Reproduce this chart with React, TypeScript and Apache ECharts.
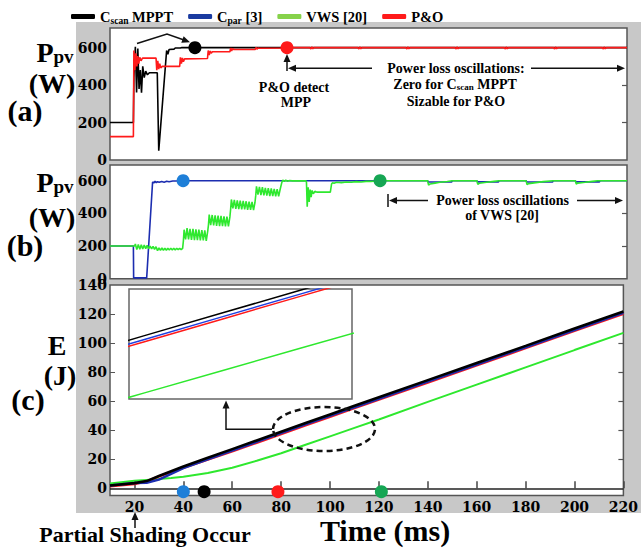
import React, { useEffect, useRef } from "react";
import * as echarts from "echarts";

// ---------- data ----------
const legendNames = ["Cscan MPPT", "Cpar [3]", "VWS [20]", "P&O"];

// Panel (a): power of Cscan MPPT and P&O  [time ms, W]
const cscanPower: number[][] = [
  [10, 200], [19.5, 200], [19.7, 440], [20.3, 605], [20.8, 360], [21.3, 595], [21.8, 380], [22.3, 480],
  [22.8, 360], [23.3, 500], [23.9, 440], [24.5, 475], [25.2, 455], [26, 466], [29.2, 466], [29.8, 50],
  [33, 585], [33.5, 565], [34, 590], [36, 592], [36.5, 598], [38.5, 598], [39, 600], [220, 600],
];
const poPower: number[][] = [
  [10, 125], [19.5, 125], [19.7, 585], [20.1, 480], [20.5, 570], [20.9, 500], [21.3, 555], [21.7, 515],
  [22.1, 548], [22.6, 530], [23.2, 544], [28.7, 544], [29, 480], [29.4, 530], [29.8, 485], [30.2, 515],
  [30.6, 492], [31.2, 500], [38.3, 500], [38.6, 548], [39, 515], [39.4, 545], [39.8, 525], [40.3, 540],
  [49.6, 542], [49.9, 585], [50.3, 560], [50.7, 582], [51.1, 570], [51.6, 578], [58.7, 578], [59, 598],
  [59.4, 582], [59.8, 594], [60.3, 590], [69, 590], [69.3, 601], [69.7, 592], [70.1, 598], [70.6, 597],
  [81, 598], [81.5, 600],
  [91.2, 600], [91.6, 593], [92, 605], [92.4, 594], [92.8, 600],
  [110.7, 600], [111.1, 593], [111.5, 605], [111.9, 594], [112.3, 600],
  [130.2, 600], [130.6, 593], [131, 605], [131.4, 594], [131.8, 600],
  [150.2, 600], [150.6, 593], [151, 605], [151.4, 594], [151.8, 600],
  [170.2, 600], [170.6, 593], [171, 605], [171.4, 594], [171.8, 600],
  [190.2, 600], [190.6, 593], [191, 605], [191.4, 594], [191.8, 600],
  [210, 600], [210.4, 593], [210.8, 605], [211.2, 594], [211.6, 600], [220, 600],
];

// Panel (b): power of Cpar and VWS
const cparPower: number[][] = [
  [10, 200], [19.5, 200], [19.6, 5], [24.9, 5], [27.3, 592], [27.8, 586], [28.3, 596], [28.8, 588],
  [29.3, 594], [30, 590], [31, 595], [32, 591], [33, 596], [34, 593], [35.5, 598], [37, 598], [38, 600],
  [139, 600], [139.3, 592], [148.8, 592], [149, 600], [159, 600], [159.3, 593], [167.8, 593], [168, 600],
  [179, 600], [179.3, 592], [189.8, 592], [190, 600], [199, 600], [199.3, 593], [208.8, 593], [209, 600],
  [220, 600],
];
const vwsPower: number[][] = [
  [10, 200], [20, 200], [20.3, 212], [20.9, 178], [21.5, 210], [22.1, 180], [22.7, 208], [23.3, 182],
  [23.9, 206], [24.5, 184], [25.1, 204], [25.7, 184], [26.3, 200], [26.9, 182], [27.5, 198], [28.1, 180],
  [28.7, 196], [29.3, 172], [29.9, 188], [30.5, 174], [31.1, 188], [31.7, 174], [32.3, 186], [32.9, 174],
  [33.5, 186], [34.1, 176], [34.7, 186], [35.3, 176], [35.9, 186], [36.5, 176], [37.1, 186], [37.7, 178],
  [38.3, 186], [38.9, 178], [39.5, 186], [39.8, 230], [40.1, 300], [40.7, 240], [41.3, 310], [41.9, 240],
  [42.5, 305], [43.1, 238], [43.7, 305], [44.3, 236], [44.9, 302], [45.5, 236], [46.1, 300], [46.7, 234],
  [47.3, 298], [47.9, 234], [48.5, 296], [49.1, 232], [49.7, 292], [50, 330], [50.3, 392], [50.9, 328],
  [51.5, 390], [52.1, 326], [52.7, 388], [53.3, 324], [53.9, 386], [54.5, 322], [55.1, 384], [55.7, 322],
  [56.3, 382], [56.9, 320], [57.5, 380], [58.1, 320], [58.7, 378], [59, 425], [59.3, 485], [59.9, 430],
  [60.5, 482], [61.1, 428], [61.7, 480], [62.3, 426], [62.9, 478], [63.5, 424], [64.1, 476], [64.7, 424],
  [65.3, 474], [65.9, 422], [66.5, 472], [67.1, 422], [67.7, 470], [68.3, 420], [68.9, 468], [69.2, 510],
  [69.5, 565], [70.1, 515], [70.7, 562], [71.3, 512], [71.9, 560], [72.5, 510], [73.1, 556], [73.7, 508],
  [74.3, 554], [74.9, 506], [75.5, 552], [76.1, 506], [76.7, 550], [77.3, 504], [77.9, 548], [78.5, 504],
  [79.1, 546], [79.8, 590], [80.2, 604], [80.8, 596], [81.4, 603], [82, 597], [83, 601], [84, 599],
  [89.6, 600], [89.8, 590], [90.1, 440], [90.5, 560], [90.9, 470], [91.3, 545], [91.7, 500], [92.1, 540],
  [92.6, 520], [93.2, 535], [94, 530], [99.5, 530], [100, 580], [100.4, 588], [101, 584], [102, 590],
  [104, 588], [106, 592], [108, 590], [110, 594], [112, 592], [114, 596], [116, 596], [118, 598],
  [119.5, 600], [139, 600], [139.4, 573], [140, 580], [142, 585], [144, 590], [147, 595], [149, 600],
  [159, 600], [159.4, 578], [160, 584], [163, 590], [166, 596], [168, 600], [179, 600], [179.4, 576],
  [180, 582], [183, 588], [186, 594], [190, 600], [199, 600], [199.4, 580], [200, 585], [203, 590],
  [206, 596], [208, 600], [220, 600],
];

// Panel (c): energy [J] at sample times
const energyTime = [10, 20, 25, 30, 35, 40, 50, 60, 70, 80, 90, 100, 110, 120, 140, 160, 180, 200, 220];
const cscanEnergy = [2, 3.6, 5, 8.5, 11.8, 15, 21, 27, 33, 39, 45, 50.9, 56.8, 62.7, 74.5, 86.3, 98.1, 110, 121.8];
const cparEnergy = [2, 3.6, 3.8, 6, 10, 14, 20, 26, 32, 38, 44, 49.9, 55.8, 61.7, 73.5, 85.3, 97.1, 109, 120.8];
const poEnergy = [1.5, 2.9, 4.8, 8.2, 11.2, 14.2, 19.8, 25.5, 31.4, 37.4, 43.4, 49.3, 55.2, 61.1, 72.9, 84.7, 96.5, 108.4, 120.2];
const vwsEnergy = [3.4, 5.2, 5.8, 6.4, 7.1, 8, 10.5, 14.2, 19, 24.2, 30, 35.8, 41.6, 47.4, 59.5, 71.4, 83.3, 95.2, 107];

// MPP detection markers
const dotCscanA = [44.5, 600];
const dotPoA = [81.9, 600];
const dotCparB = [39.7, 600];
const dotVwsB = [119.7, 600];
const dotsC = { cpar: [40, -2.3], cscan: [48.5, -2.3], po: [78.7, -2.3], vws: [121, -2.3] };

// axis ticks
const powerLabels = [0, 200, 400, 600];
const powerTicks = [200, 400];
const energyLabels = [0, 20, 40, 60, 80, 100, 120, 140];
const energyTicks = [20, 40, 60, 80, 100, 120];
const timeLabels = [20, 40, 60, 80, 100, 120, 140, 160, 180, 200, 220];
const insetRange = { x: [88, 116.8], y: [28.4, 57.2] };

// ---------- styles ----------
const C = {
  cscan: "#000000",
  cpar: "#1c2db0",
  vws: "#2ee82e",
  po: "#ff1a1a",
  dotBlue: "#1e7fd8",
  dotGreen: "#16a654",
};
const SERIF = '"Liberation Serif", "Times New Roman", serif';
const TICKFONT = '"DejaVu Serif", serif';

const pair = (vals: number[]) => energyTime.map((t, i) => [t, vals[i]]);

function seg(points: number[][]) {
  return { type: "polyline", z: 60, shape: { points }, style: { stroke: "#111", lineWidth: 1.5, fill: "none" } };
}
function head(tip: number[], from: number[], len = 8, half = 3.5) {
  const dx = tip[0] - from[0], dy = tip[1] - from[1];
  const d = Math.hypot(dx, dy);
  const ux = dx / d, uy = dy / d;
  const bx = tip[0] - ux * len, by = tip[1] - uy * len;
  return {
    type: "polygon", z: 60,
    shape: { points: [tip, [bx - uy * half, by + ux * half], [bx + uy * half, by - ux * half]] },
    style: { fill: "#111" },
  };
}
function txt(x: number, y: number, text: string, size: number, rich?: any, lineHeight?: number) {
  return {
    type: "text", z: 60, x, y,
    style: {
      text, fill: "#000", font: `bold ${size}px ${SERIF}`,
      textAlign: "center", textVerticalAlign: "middle", rich, lineHeight,
    },
  };
}
const subRich = (size: number) => ({
  s: { fontFamily: SERIF, fontWeight: "bold", fontSize: size, verticalAlign: "bottom", fill: "#000", color: "#000" },
});

export default function App() {
  const ref = useRef<HTMLDivElement>(null);
  useEffect(() => {
    document.body.style.margin = "0";
    if (!ref.current) return;
    const chart = echarts.init(ref.current, undefined, { renderer: "svg" });

    const hiddenX = (gridIndex: number) => ({
      type: "value", gridIndex, min: 10, max: 220,
      axisLine: { show: false }, axisTick: { show: false }, axisLabel: { show: false }, splitLine: { show: false },
    });
    const labelStyle = { fontFamily: TICKFONT, fontWeight: "bold", fontSize: 14, color: "#000" };
    const leftY = (gridIndex: number, min: number, max: number, labels: number[], ticks?: number[]) => ({
      type: "value", gridIndex, min, max, position: "left",
      axisLine: { show: false },
      axisTick: ticks ? { show: true, inside: true, length: 5, customValues: ticks, lineStyle: { color: "#555" } } : { show: false },
      axisLabel: { ...labelStyle, margin: 3, customValues: labels },
      splitLine: { show: false },
    });
    const rightY = (gridIndex: number, min: number, max: number, ticks: number[]) => ({
      type: "value", gridIndex, min, max, position: "right",
      axisLine: { show: false },
      axisTick: { show: true, inside: true, length: 5, customValues: ticks, lineStyle: { color: "#555", width: 1.2 } },
      axisLabel: { show: false }, splitLine: { show: false },
    });
    const line = (name: string, data: number[][], color: string, xi: number, yi: number, width = 1.6, extra: any = {}) => ({
      name, type: "line", data, xAxisIndex: xi, yAxisIndex: yi, showSymbol: false, symbol: "none",
      lineStyle: { color, width }, itemStyle: { color }, z: 3, ...extra,
    });
    const dot = (data: number[][], color: string, xi: number, yi: number) => ({
      name: "marker", type: "scatter", data, xAxisIndex: xi, yAxisIndex: yi, symbolSize: 13,
      itemStyle: { color, opacity: 1 }, z: 6, clip: false,
    });

    const gridStyle = { show: true, backgroundColor: "#fff", borderColor: "#555", borderWidth: 1.5 };

    const legendFormatter = (n: string) => {
      if (n === "Cscan MPPT") return "{m|C}{s|scan}{m| MPPT}";
      if (n === "Cpar [3]") return "{m|C}{s|par}{m| [3]}";
      return "{m|" + n + "}";
    };

    const option: any = {
      animation: false,
      backgroundColor: "#fff",
      legend: {
        left: 66, top: 4, itemWidth: 24, itemHeight: 5, itemGap: 15, icon: "roundRect",
        selectedMode: false,
        data: [
          { name: legendNames[0], itemStyle: { color: "#000" } },
          { name: legendNames[1], itemStyle: { color: "#1a3ba0" } },
          { name: legendNames[2], itemStyle: { color: "#86d24a" } },
          { name: legendNames[3], itemStyle: { color: "#ff1a1a" } },
        ],
        formatter: legendFormatter,
        textStyle: {
          rich: {
            m: { fontFamily: SERIF, fontWeight: "bold", fontSize: 14.5, color: "#000", lineHeight: 18 },
            s: { fontFamily: SERIF, fontWeight: "bold", fontSize: 9.5, color: "#000", verticalAlign: "bottom", lineHeight: 11 },
          },
        },
      },
      grid: [
        { left: 110, top: 28, width: 517, height: 132, ...gridStyle },
        { left: 110, top: 165, width: 517, height: 113.7, ...gridStyle },
        { left: 110, top: 285, width: 517, height: 210.6, ...gridStyle },
        { left: 129, top: 289, width: 223, height: 110, ...gridStyle, borderColor: "#666" },
      ],
      xAxis: [
        hiddenX(0),
        hiddenX(1),
        {
          type: "value", gridIndex: 2, min: 10, max: 220,
          axisLine: { show: false },
          axisTick: { show: true, inside: true, length: 7, customValues: timeLabels, lineStyle: { color: "#444", width: 1.5 } },
          axisLabel: { ...labelStyle, margin: 4, customValues: timeLabels },
          splitLine: { show: false },
        },
        {
          type: "value", gridIndex: 3, min: insetRange.x[0], max: insetRange.x[1],
          axisLine: { show: false }, axisTick: { show: false }, axisLabel: { show: false }, splitLine: { show: false },
        },
      ],
      yAxis: [
        leftY(0, 0, 705, powerLabels),
        rightY(0, 0, 705, powerTicks),
        leftY(1, 0, 696, powerLabels),
        rightY(1, 0, 696, powerTicks),
        leftY(2, -5, 140, energyLabels, energyTicks),
        rightY(2, -5, 140, energyTicks),
        {
          type: "value", gridIndex: 3, min: insetRange.y[0], max: insetRange.y[1],
          axisLine: { show: false }, axisTick: { show: false }, axisLabel: { show: false }, splitLine: { show: false },
        },
      ],
      series: [
        // (a)
        line("Cscan MPPT", cscanPower, C.cscan, 0, 0, 1.6),
        line("P&O", poPower, C.po, 0, 0, 1.6),
        dot([dotCscanA], "#000", 0, 0),
        dot([dotPoA], C.po, 0, 0),
        // (b)
        line("Cpar [3]", cparPower, C.cpar, 1, 2, 1.6),
        line("VWS [20]", vwsPower, C.vws, 1, 2, 1.6),
        dot([dotCparB], C.dotBlue, 1, 2),
        dot([dotVwsB], C.dotGreen, 1, 2),
        // (c)
        line("VWS [20]", pair(vwsEnergy), C.vws, 2, 4, 2, {
          markLine: {
            silent: true, symbol: "none", label: { show: false },
            lineStyle: { color: "#222", width: 1.5, type: "solid" },
            data: [{ yAxis: 0 }],
          },
        }),
        line("P&O", pair(poEnergy), C.po, 2, 4, 2.5),
        line("Cpar [3]", pair(cparEnergy), C.cpar, 2, 4, 2.5),
        line("Cscan MPPT", pair(cscanEnergy), C.cscan, 2, 4, 2.6),
        dot([dotsC.cpar], C.dotBlue, 2, 4),
        dot([dotsC.cscan], "#000", 2, 4),
        dot([dotsC.po], C.po, 2, 4),
        dot([dotsC.vws], C.dotGreen, 2, 4),
        // inset
        line("VWS [20]", pair(vwsEnergy), C.vws, 3, 6, 1.5),
        line("P&O", pair(poEnergy), C.po, 3, 6, 1.5),
        line("Cpar [3]", pair(cparEnergy), "#1f3fe0", 3, 6, 1.5),
        line("Cscan MPPT", pair(cscanEnergy), C.cscan, 3, 6, 1.5),
      ],
      graphic: [
        { type: "rect", z: -10, shape: { x: 76, y: 22, width: 565, height: 491 }, style: { fill: "#c8c8c8" } },
        // y titles
        txt(55, 52, "P{s|pv}", 28, subRich(19)),
        txt(52, 83, "(W)", 28),
        txt(25, 110, "(a)", 30),
        txt(55, 182, "P{s|pv}", 28, subRich(19)),
        txt(52, 217, "(W)", 28),
        txt(25, 245, "(b)", 30),
        txt(57, 345, "E", 28),
        txt(60, 375, "(J)", 28),
        txt(28, 399, "(c)", 30),
        txt(385, 530.5, "Time (ms)", 30, undefined, 30),
        txt(145, 534, "Partial Shading Occur", 22, undefined, 22),
        // annotations (a)
        seg([[137, 43.5], [167, 34], [184, 40]]),
        head([190, 42.2], [167, 34]),
        seg([[287, 71], [287, 60]]),
        head([287, 54], [287, 71]),
        seg([[372, 68.3], [294, 68.3]]),
        head([288, 68.3], [372, 68.3]),
        seg([[531, 68.3], [618, 68.3]]),
        head([625, 68.3], [531, 68.3]),
        txt(294, 87, "P&O detect", 14),
        txt(296, 102.5, "MPP", 14),
        txt(456, 68.3, "Power loss oscillations:", 14),
        txt(455, 84.5, "Zero for C{s|scan} MPPT", 14, subRich(9)),
        txt(456, 101, "Sizable for P&O", 14),
        // annotations (b)
        seg([[388, 194], [388, 207]]),
        seg([[428, 200.5], [396, 200.5]]),
        head([389, 200.5], [428, 200.5]),
        seg([[577, 200.5], [616, 200.5]]),
        head([623, 200.5], [577, 200.5]),
        txt(502.5, 200.5, "Power loss oscillations", 14),
        txt(502, 215.5, "of VWS [20]", 14),
        // annotations (c)
        {
          type: "ellipse", z: 60, shape: { cx: 324, cy: 429, rx: 51, ry: 22 },
          style: { fill: "none", stroke: "#111", lineWidth: 2.5, lineDash: [6, 4] },
        },
        seg([[272, 429.3], [226, 429.3], [226, 407]]),
        head([226, 400.5], [226, 429.3]),
        seg([[135, 528], [135, 518]]),
        head([135, 512], [135, 528]),
      ],
    };
    chart.setOption(option);
    return () => chart.dispose();
  }, []);
  return <div ref={ref} style={{ width: 641, height: 549 }} />;
}
